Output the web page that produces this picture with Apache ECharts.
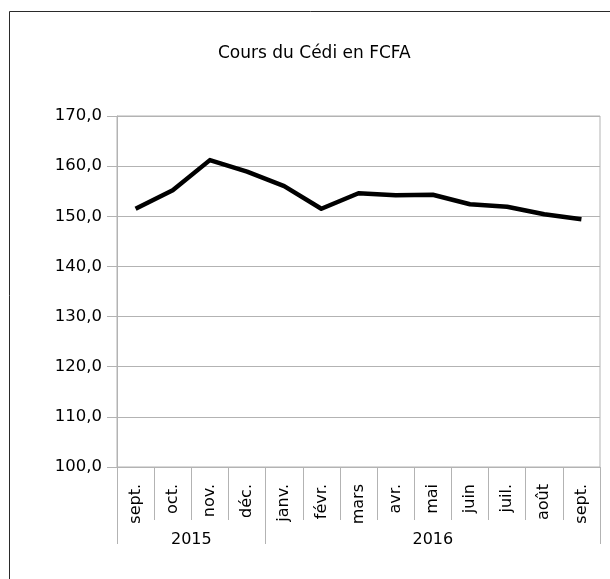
<!DOCTYPE html>
<html>
<head>
<meta charset="utf-8">
<script src="https://cdn.jsdelivr.net/npm/echarts@6/dist/echarts.min.js"></script>
<style>
html,body{margin:0;padding:0;background:#fff;}
#chart{width:610px;height:579px;}
</style>
</head>
<body>
<div id="chart"></div>
<script>
var titleText = 'Cours du Cédi en FCFA';
var months = ['sept.', 'oct.', 'nov.', 'déc.', 'janv.', 'févr.', 'mars', 'avr.', 'mai', 'juin', 'juil.', 'août', 'sept.'];
var rates = [151.5, 155.2, 161.2, 158.9, 156.0, 151.5, 154.6, 154.2, 154.3, 152.4, 151.9, 150.4, 149.4];
var years = ['2015', '2016'];
var monthsPerYear = [4, 9];
var yMin = 100, yMax = 170, yStep = 10;

var bounds = [0];
var centers = [];
monthsPerYear.forEach(function (n, i) {
  centers.push(bounds[i] + n / 2);
  bounds.push(bounds[i] + n);
});

var gray = '#b3b3b3';
var font = 'DejaVu Sans';
var chart = echarts.init(document.getElementById('chart'), null, {renderer: 'canvas'});
chart.setOption({
  animation: false,
  backgroundColor: '#fff',
  title: {
    text: titleText,
    left: 213,
    top: 40,
    textStyle: {fontFamily: font, fontSize: 17, fontWeight: 'normal', color: '#000'}
  },
  graphic: [{
    type: 'rect', silent: true,
    shape: {x: 9.5, y: 11.5, width: 800, height: 800},
    style: {fill: 'none', stroke: '#2a2a2a', lineWidth: 1}
  }],
  grid: {
    left: 117, top: 116, right: 10, bottom: 112,
    show: true, borderColor: gray, borderWidth: 1, backgroundColor: 'transparent'
  },
  xAxis: [{
    type: 'category',
    data: months,
    boundaryGap: true,
    axisLine: {show: true, lineStyle: {color: gray, width: 1}},
    axisTick: {show: true, interval: 0, length: 53, lineStyle: {color: gray}},
    axisLabel: {interval: 0, rotate: 90, margin: 17, fontFamily: font, fontSize: 16, color: '#000'},
    splitLine: {show: false}
  }, {
    type: 'value',
    min: 0,
    max: bounds[bounds.length - 1],
    position: 'bottom',
    offset: 53,
    axisLine: {show: false},
    axisTick: {show: true, length: 24, customValues: bounds, lineStyle: {color: gray}},
    axisLabel: {
      customValues: centers,
      margin: 12,
      fontFamily: font, fontSize: 16, color: '#000',
      formatter: function (v) {
        var i = centers.indexOf(v);
        return i >= 0 ? years[i] : '';
      }
    },
    splitLine: {show: false}
  }],
  yAxis: {
    type: 'value',
    min: yMin, max: yMax, interval: yStep,
    axisLine: {show: true, lineStyle: {color: gray, width: 1}},
    axisTick: {show: true, length: 10, lineStyle: {color: gray}},
    axisLabel: {
      margin: 15, fontFamily: font, fontSize: 16.5, color: '#000',
      formatter: function (v) { return v.toFixed(1).replace('.', ','); }
    },
    splitLine: {show: true, lineStyle: {color: gray, width: 1}}
  },
  series: [{
    type: 'line',
    data: rates,
    xAxisIndex: 0,
    showSymbol: false,
    symbol: 'none',
    lineStyle: {color: '#000', width: 4.5, cap: 'butt', join: 'round'}
  }]
});
</script>
</body>
</html>
